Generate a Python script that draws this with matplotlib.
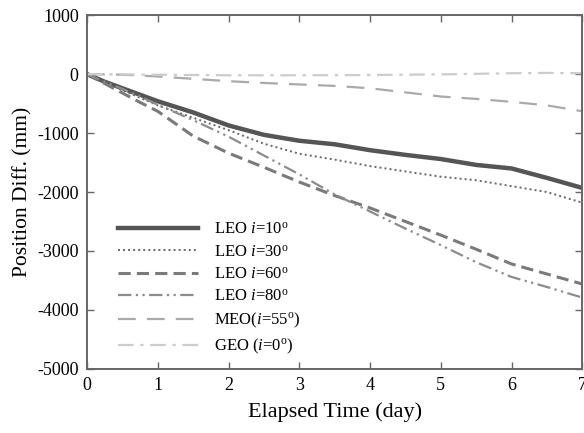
import matplotlib
matplotlib.use("Agg")
import matplotlib.pyplot as plt

# elapsed time nodes (day) and position differences (mm)
days = [0, 0.25, 0.5, 0.75, 1, 1.5, 2, 2.5, 3, 3.5, 4, 4.5, 5, 5.5, 6, 6.5, 7]

leo10 = [0, -130, -240, -350, -460, -650, -870, -1030, -1130, -1190,
         -1290, -1370, -1440, -1540, -1600, -1760, -1930]
leo30 = [0, -140, -270, -400, -530, -740, -950, -1180, -1350, -1450,
         -1560, -1650, -1740, -1800, -1900, -2000, -2180]
leo60 = [0, -160, -320, -480, -630, -1050, -1340, -1580, -1830, -2060,
         -2270, -2500, -2730, -2970, -3220, -3390, -3560]
leo80 = [0, -130, -250, -380, -520, -780, -1060, -1380, -1700, -2040,
         -2330, -2620, -2900, -3190, -3440, -3610, -3790]
meo55 = [0, -5, -10, -25, -40, -80, -120, -150, -175, -200,
         -240, -310, -380, -420, -470, -530, -630]
geo0 = [0, -3, -5, -8, -10, -15, -20, -20, -20, -18,
        -15, -10, -5, 5, 15, 20, 15]

labels = [r"LEO $\mathit{i}$=10$^{\rm o}$",
          r"LEO $\mathit{i}$=30$^{\rm o}$",
          r"LEO $\mathit{i}$=60$^{\rm o}$",
          r"LEO $\mathit{i}$=80$^{\rm o}$",
          r"MEO($\mathit{i}$=55$^{\rm o}$)",
          r"GEO ($\mathit{i}$=0$^{\rm o}$)"]

plt.rcParams.update({
    "font.family": "Liberation Serif",
    "mathtext.fontset": "custom",
    "mathtext.rm": "Liberation Serif",
    "mathtext.it": "Liberation Serif:italic",
    "axes.unicode_minus": False,
})

fig = plt.figure(figsize=(5.84, 4.33), dpi=100)
ax = fig.add_axes([0.149, 0.148, 0.848, 0.817])

ax.plot(days, leo10, color="#555555", lw=3.2, ls="-", label=labels[0])
ax.plot(days, leo30, color="#666666", lw=1.4, ls=(0, (1, 1.6)), label=labels[1])
ax.plot(days, leo60, color="#7a7a7a", lw=2.2, ls=(0, (4, 2)), label=labels[2])
ax.plot(days, leo80, color="#8c8c8c", lw=1.6, ls=(0, (6, 2, 1, 2, 1, 2)),
        label=labels[3])
ax.plot(days, meo55, color="#aaaaaa", lw=1.6, ls=(0, (8, 5)), label=labels[4])
ax.plot(days, geo0, color="#cccccc", lw=1.6, ls=(0, (7, 3, 1.5, 3)),
        label=labels[5])

ax.set_xlim(0, 7)
ax.set_ylim(-5000, 1000)
ax.set_xticks(range(0, 8))
ax.set_yticks(range(-5000, 1001, 1000))
ax.tick_params(direction="in", length=5, width=1.0, color="#666666",
               top=True, right=True, labelsize=13, pad=6)
for s in ax.spines.values():
    s.set_color("#666666")
    s.set_linewidth(1.4)

ax.set_xlabel("Elapsed Time (day)", fontsize=16, labelpad=6)
ax.set_ylabel("Position Diff. (mm)", fontsize=15.5, labelpad=3)

ax.legend(loc="lower left", bbox_to_anchor=(0.032, -0.006), frameon=False,
          fontsize=12, handlelength=4.8, handletextpad=0.95,
          labelspacing=0.38)

fig.savefig("out.png", dpi=100)
